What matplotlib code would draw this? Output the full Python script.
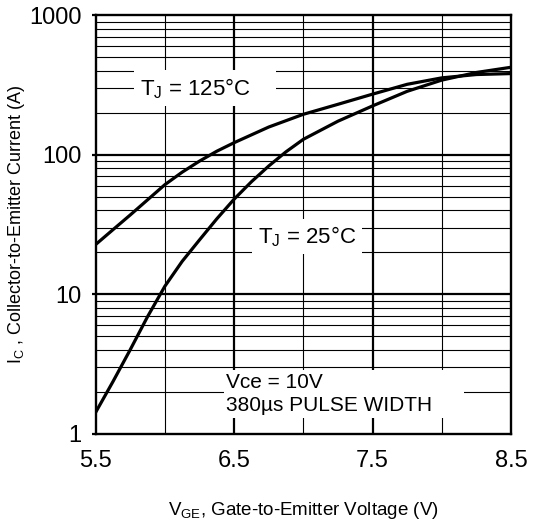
import numpy as np
import matplotlib
matplotlib.use("Agg")
import matplotlib.pyplot as plt
from matplotlib.ticker import FixedLocator, NullFormatter, FixedFormatter

plt.rcParams['font.family'] = ['Liberation Sans', 'DejaVu Sans']
plt.rcParams['mathtext.fontset'] = 'custom'
plt.rcParams['mathtext.rm'] = 'Liberation Sans'

# -------- DATA --------
vge_125 = [5.5, 5.625, 5.75, 5.875, 6.0, 6.125, 6.25, 6.375, 6.5, 6.75, 7.0, 7.25, 7.5, 7.75, 8.0, 8.25, 8.5]
ic_125 = [22.7, 29, 37, 47.5, 61, 75, 90, 106, 122, 158, 195, 230, 272, 320, 356, 376, 382]

vge_25 = [5.5, 5.625, 5.75, 5.875, 6.0, 6.125, 6.25, 6.375, 6.5, 6.625, 6.75, 6.875, 7.0, 7.25, 7.5, 7.75, 8.0, 8.25, 8.5]
ic_25 = [1.42, 2.36, 4.0, 6.9, 11.4, 17.2, 24.5, 34.7, 48, 64, 83, 105, 129, 174, 224, 285, 343, 389, 424]

x_ticks = [5.5, 6.5, 7.5, 8.5]
x_labels = ["5.5", "6.5", "7.5", "8.5"]
y_ticks = [1, 10, 100, 1000]
y_labels = ["1", "10", "100", "1000"]

# -------- FIGURE --------
fig = plt.figure(figsize=(5.34, 5.27), dpi=100)
ax = fig.add_axes([0.179, 0.177, 0.778, 0.794])

ax.set_yscale("log")
ax.set_xlim(5.5, 8.5)
ax.set_ylim(1, 1000)

# grid: thick at decades / major x, thin for minors
for v in [10, 100]:
    ax.axhline(v, color="black", lw=1.6, zorder=1)
for d in [1, 10, 100]:
    for m in range(2, 10):
        ax.axhline(d * m, color="black", lw=0.8, zorder=1)
for xv in [6.5, 7.5]:
    ax.axvline(xv, color="black", lw=1.6, zorder=1)
for xv in [6.0, 7.0, 8.0]:
    ax.axvline(xv, color="black", lw=0.8, zorder=1)

ax.plot(vge_125, ic_125, color="black", lw=2.3, zorder=3)
ax.plot(vge_25, ic_25, color="black", lw=2.3, zorder=3)

ax.xaxis.set_major_locator(FixedLocator(x_ticks))
ax.xaxis.set_major_formatter(FixedFormatter(x_labels))
ax.yaxis.set_major_locator(FixedLocator(y_ticks))
ax.yaxis.set_major_formatter(FixedFormatter(y_labels))
ax.yaxis.set_minor_formatter(NullFormatter())
ax.tick_params(which="both", length=0, labelsize=17)
ax.tick_params(axis="y", which="major", length=3, width=1.6, direction="out", pad=7)
ax.tick_params(axis="x", pad=12)

for s in ax.spines.values():
    s.set_linewidth(1.7)

box = dict(facecolor="white", edgecolor="none", pad=4)
ax.text(5.82, 300, r"T$_\mathregular{J}$ = 125°C    ", fontsize=16, va="center",
        ha="left", bbox=box, zorder=4)
ax.text(6.67, 25.9, r"T$_\mathregular{J}$ = 25°C", fontsize=16, va="center",
        ha="left", bbox=box, zorder=4)
ax.text(6.445, 1.92, "Vce = 10V\n380µs PULSE WIDTH     ", fontsize=15, va="center",
        ha="left", linespacing=1.3,
        bbox=dict(facecolor="white", edgecolor="none", pad=2), zorder=4)

ax.set_xlabel(r"V$_\mathregular{GE}$, Gate-to-Emitter Voltage (V)", fontsize=13.5,
              labelpad=20)
ax.set_ylabel(r"I$_\mathregular{C}$ , Collector-to-Emitter Current (A)", fontsize=13)
ax.yaxis.set_label_coords(-0.165, 0.5)

fig.savefig("out.png", dpi=100)
